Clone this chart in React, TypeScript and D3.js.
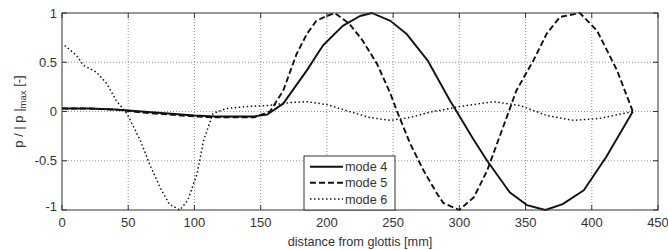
import React from "react";
import * as d3 from "d3";

const xTicks = [0, 50, 100, 150, 200, 250, 300, 350, 400, 450];
const yTicks = [-1, -0.5, 0, 0.5, 1];
const yTickLabels = ["-1", "-0.5", "0", "0.5", "1"];

const mode4X = [0, 20, 40, 60, 80, 100, 115, 130, 145, 155, 167, 185, 197, 212, 225, 234, 248, 260, 270, 276, 293, 298, 310, 321, 338, 351, 365, 378, 394, 411, 431];
const mode4Y = [0.03, 0.03, 0.02, 0.0, -0.02, -0.04, -0.05, -0.05, -0.05, -0.03, 0.08, 0.42, 0.67, 0.87, 0.97, 1.0, 0.92, 0.79, 0.62, 0.52, 0.11, 0.0, -0.27, -0.5, -0.82, -0.95, -1.0, -0.94, -0.8, -0.46, 0.0];

const mode5X = [0, 20, 40, 60, 80, 100, 115, 130, 145, 157, 167, 177, 185, 192, 200, 206, 217, 227, 238, 248, 253, 263, 273, 283, 288, 300, 311, 321, 333, 343, 356, 366, 376, 391, 404, 419, 431];
const mode5Y = [0.03, 0.03, 0.02, -0.01, -0.03, -0.05, -0.06, -0.06, -0.06, 0.0, 0.21, 0.58, 0.79, 0.92, 0.97, 1.0, 0.89, 0.72, 0.48, 0.18, 0.0, -0.33, -0.6, -0.83, -0.93, -1.0, -0.87, -0.6, -0.16, 0.21, 0.52, 0.79, 0.96, 1.0, 0.82, 0.42, 0.0];

const mode6X = [2, 11, 16, 26, 34, 41, 49, 59, 66, 74, 81, 89, 95, 102, 107, 114, 124, 139, 155, 172, 185, 200, 217, 232, 248, 263, 280, 293, 300, 326, 346, 366, 386, 406, 431];
const mode6Y = [0.67, 0.57, 0.47, 0.4, 0.28, 0.11, -0.02, -0.29, -0.53, -0.77, -0.94, -1.0, -0.9, -0.63, -0.29, -0.02, 0.03, 0.05, 0.06, 0.09, 0.1, 0.07, 0.0, -0.06, -0.09, -0.06, 0.0, 0.03, 0.05, 0.1, 0.06, -0.04, -0.09, -0.07, 0.0];

const seriesNames = ["mode 4", "mode 5", "mode 6"];

export default function App() {
  const W = 668, H = 250;
  const L = 62, R = 658, T = 13, B = 210;
  const x = d3.scaleLinear().domain([0, 450]).range([L, R]);
  const y = d3.scaleLinear().domain([-1, 1]).range([B, T]);
  const line = d3.line<[number, number]>().x(d => x(d[0])).y(d => y(d[1]));
  const zip = (a: number[], b: number[]) => a.map((v, i) => [v, b[i]] as [number, number]);
  const series = [
    { name: seriesNames[0], d: line(zip(mode4X, mode4Y)), dash: "none", w: 1.9 },
    { name: seriesNames[1], d: line(zip(mode5X, mode5Y)), dash: "6,3", w: 1.9 },
    { name: seriesNames[2], d: line(zip(mode6X, mode6Y)), dash: "1.5,2.5", w: 1.5 },
  ];
  const font = "'Liberation Sans', Arial, sans-serif";
  const tc = "#333";
  const lgX = 304, lgY = 156, lgW = 91, lgH = 54;
  const rows = [166.7, 182.7, 199];
  return (
    <svg width={W} height={H} style={{ position: "absolute", left: 0, top: 0, background: "#fff" }} fontFamily={font}>
      <rect x={0} y={0} width={W} height={H} fill="#fff" />
      {xTicks.slice(1, -1).map(t => (
        <line key={"gx" + t} x1={x(t)} x2={x(t)} y1={T} y2={B} stroke="#777" strokeWidth={0.8} strokeDasharray="1,2" />
      ))}
      {yTicks.slice(1, -1).map(t => (
        <line key={"gy" + t} x1={L} x2={R} y1={y(t)} y2={y(t)} stroke="#777" strokeWidth={0.8} strokeDasharray="1,2" />
      ))}
      {xTicks.map(t => (
        <g key={"tx" + t}>
          <line x1={x(t)} x2={x(t)} y1={B} y2={B - 5} stroke="#333" strokeWidth={1} />
          <line x1={x(t)} x2={x(t)} y1={T} y2={T + 5} stroke="#333" strokeWidth={1} />
          <text x={x(t)} y={226.5} textAnchor="middle" fontSize={13} fill={tc}>{t}</text>
        </g>
      ))}
      {yTicks.map((t, i) => (
        <g key={"ty" + t}>
          <line x1={L} x2={L + 5} y1={y(t)} y2={y(t)} stroke="#333" strokeWidth={1} />
          <line x1={R} x2={R - 5} y1={y(t)} y2={y(t)} stroke="#333" strokeWidth={1} />
          <text x={57} y={y(t) + (t === -1 ? 1 : 4.5)} textAnchor="end" fontSize={13} fill={tc}>{yTickLabels[i]}</text>
        </g>
      ))}
      {series.map(s => (
        <path key={s.name} d={s.d || ""} fill="none" stroke="#111" strokeWidth={s.w} strokeDasharray={s.dash} strokeLinejoin="round" />
      ))}
      <rect x={L} y={T} width={R - L} height={B - T} fill="none" stroke="#333" strokeWidth={1} />
      <rect x={lgX} y={lgY} width={lgW} height={lgH} fill="#fff" stroke="#333" strokeWidth={1} />
      {series.map((s, i) => (
        <g key={"lg" + s.name}>
          <line x1={310} x2={343} y1={rows[i]} y2={rows[i]} stroke="#111" strokeWidth={s.w} strokeDasharray={s.dash} />
          <text x={345} y={rows[i] + 4.5} fontSize={12.7} fill={tc}>{s.name}</text>
        </g>
      ))}
      <text x={(L + R) / 2} y={245.5} textAnchor="middle" fontSize={12.7} fill={tc}>distance from glottis [mm]</text>
      <text transform={`translate(23,${(T + B) / 2}) rotate(-90)`} textAnchor="middle" fontSize={13} fill={tc}>
        p / | p |<tspan fontSize={9.5} dy={3}>max</tspan><tspan dy={-3}> [-]</tspan>
      </text>
    </svg>
  );
}
